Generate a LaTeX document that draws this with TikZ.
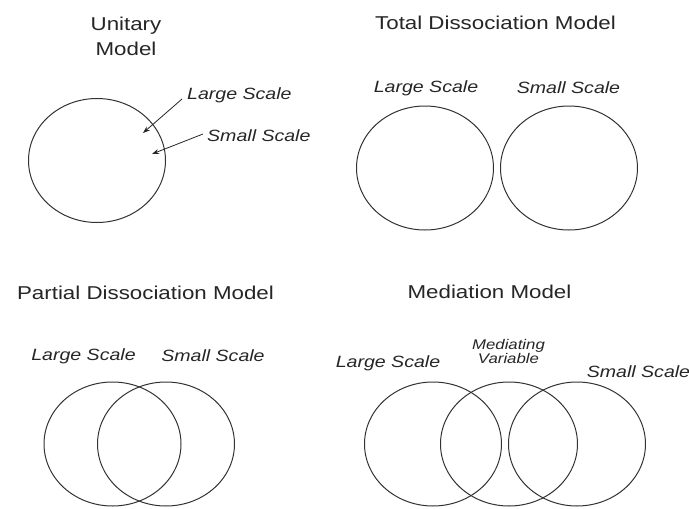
\documentclass[tikz,border=0pt]{standalone}
\usepackage{fontspec}
\setmainfont{Liberation Sans}
\newfontfamily\ttlfont[FakeStretch=1.2]{Liberation Sans}
\newfontfamily\lblfont[FakeStretch=1.2]{Liberation Sans Italic}
\usetikzlibrary{arrows.meta,shapes.geometric}
\begin{document}
\begin{tikzpicture}[x=1pt,y=-1pt,
  ttl/.style={inner sep=0pt, text=black!85, font=\ttlfont\fontsize{18.6}{25}\selectfont, align=center},
  lbl/.style={inner sep=0pt, text=black!85, font=\lblfont\fontsize{16.3}{20}\selectfont},
  slbl/.style={inner sep=0pt, text=black!85, font=\lblfont\fontsize{14}{16.5}\selectfont, align=center},
  ring/.style={draw=black!80, line width=1pt, ellipse, minimum width=137pt, minimum height=124pt, inner sep=0pt},
  pointer/.style={draw=black!85, line width=0.8pt, -{Stealth[length=7pt,width=5pt]}}]
\fill[white] (0,0) rectangle (689,509);
\useasboundingbox (0,0) rectangle (689,509);
% Unitary
\node[ttl] (tU) at (126,36.5) {Unitary\\Model};
\node[ring] (cU) at (97,160.5) {};
\node[lbl, anchor=west] (lsU) at (187,95) {Large Scale};
\node[lbl, anchor=west] (ssU) at (207,136) {Small Scale};
\coordinate (a1s) at (182,99);
\coordinate (a1e) at (143,133);
\coordinate (a2s) at (203,134);
\coordinate (a2e) at (152,154);
\draw[pointer] (a1s) -- (a1e);
\draw[pointer] (a2s) -- (a2e);
% Total dissociation
\node[ttl] (tT) at (495.5,22.5) {Total Dissociation Model};
\node[lbl] (lsT) at (426,88) {Large Scale};
\node[lbl] (ssT) at (568.5,88) {Small Scale};
\node[ring] (cT1) at (425,168) {};
\node[ring] (cT2) at (569,168) {};
% Partial dissociation
\node[ttl] (tP) at (145.5,292.5) {Partial Dissociation Model};
\node[lbl] (lsP) at (83.5,356) {Large Scale};
\node[lbl] (ssP) at (213,356) {Small Scale};
\node[ring] (cP1) at (112.5,444) {};
\node[ring] (cP2) at (166,444) {};
% Mediation
\node[ttl] (tM) at (489.5,292) {Mediation Model};
\node[slbl] (mv) at (508.5,351.5) {Mediating\\[-2pt]Variable};
\node[lbl] (lsM) at (388,363) {Large Scale};
\node[lbl] (ssM) at (638.5,372) {Small Scale};
\node[ring] (cM1) at (433,444) {};
\node[ring] (cM2) at (509,444) {};
\node[ring] (cM3) at (577,444) {};
\end{tikzpicture}
\end{document}
